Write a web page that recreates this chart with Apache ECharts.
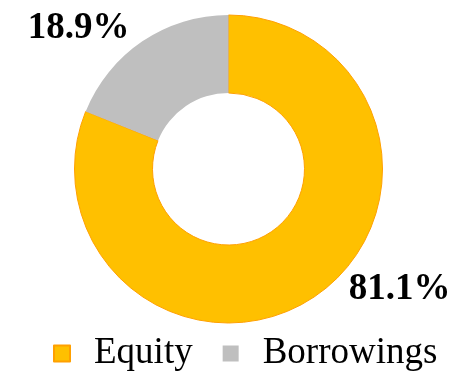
<!DOCTYPE html>
<html>
<head>
<meta charset="utf-8">
<script src="https://cdn.jsdelivr.net/npm/echarts@6/dist/echarts.min.js"></script>
<style>
  html, body { margin: 0; padding: 0; background: #ffffff; }
  #chart { width: 456px; height: 371px; }
</style>
</head>
<body>
<div id="chart"></div>
<script>
// Funding mix: share of equity vs borrowings (%)
const categories = ['Equity', 'Borrowings'];
const shares = [81.1, 18.9];
const colors = ['#FFC000', '#BFBFBF'];
const borders = ['#FFA000', 'rgba(0,0,0,0)'];

// Where each percentage label sits (px)
const labelSpots = [[399.5, 289], [78.5, 28]];

const serif = '"Liberation Serif", "Times New Roman", serif';

const chart = echarts.init(document.getElementById('chart'), null, { renderer: 'canvas' });

chart.setOption({
  animation: false,
  legend: {
    data: categories,
    top: 335,
    left: 53,
    padding: 0,
    itemWidth: 16,
    itemHeight: 16,
    itemGap: 30,
    icon: 'rect',
    textStyle: {
      fontFamily: serif,
      fontSize: 37,
      color: '#000',
      padding: [0, 0, 0, 19]
    }
  },
  series: [{
    type: 'pie',
    center: [228.5, 169],
    radius: [76, 154],
    startAngle: 90,
    clockwise: true,
    avoidLabelOverlap: false,
    emphasis: { disabled: true },
    label: {
      show: true,
      position: 'outside',
      fontFamily: serif,
      fontWeight: 'bold',
      fontSize: 37,
      color: '#000',
      formatter: p => p.value.toFixed(1) + '%'
    },
    labelLine: { show: false },
    labelLayout: p => ({
      x: labelSpots[p.dataIndex][0],
      y: labelSpots[p.dataIndex][1],
      align: 'center',
      verticalAlign: 'middle'
    }),
    data: categories.map((name, i) => ({
      name,
      value: shares[i],
      itemStyle: {
        color: colors[i],
        borderColor: borders[i],
        borderWidth: i === 0 ? 1 : 0
      }
    }))
  }]
});
</script>
</body>
</html>
